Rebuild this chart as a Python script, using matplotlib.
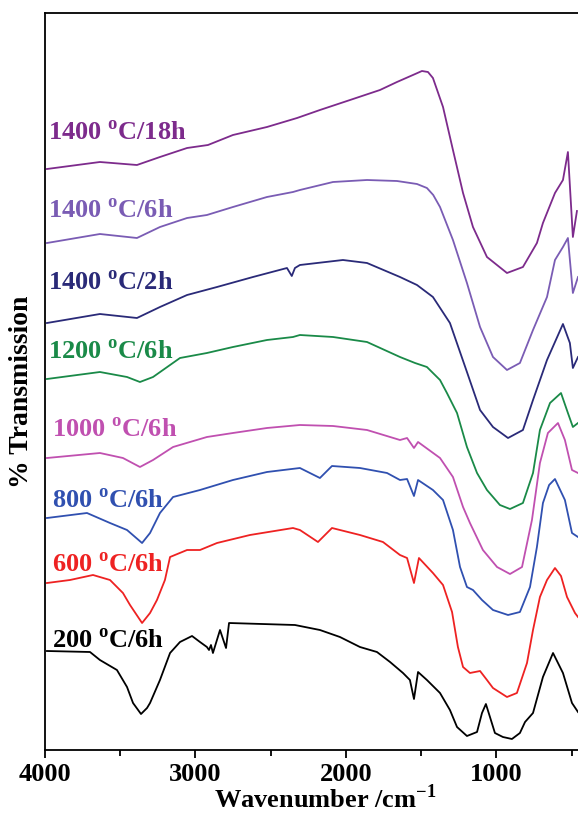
import matplotlib
matplotlib.use("Agg")
import matplotlib.pyplot as plt
from matplotlib.ticker import MultipleLocator

plt.rcParams["font.family"] = "Liberation Serif"
plt.rcParams["font.weight"] = "bold"
plt.rcParams["mathtext.fontset"] = "custom"
plt.rcParams["mathtext.rm"] = "Liberation Serif:bold"
plt.rcParams["mathtext.bf"] = "Liberation Serif:bold"

# --- spectra (wavenumber cm-1, stacked transmission a.u.) ---
wn_200 = [3987, 3701, 3635, 3522, 3455, 3415, 3362, 3322, 3302, 3236, 3169, 3103, 3023,
          2970, 2924, 2910, 2897, 2884, 2837, 2797, 2777, 2339, 2306, 2173, 2040, 1907,
          1794, 1707, 1621, 1575, 1548, 1521, 1462, 1375, 1309, 1262, 1196, 1129, 1096,
          1070, 1043, 1010, 957, 897, 844, 810, 757, 691, 624, 558, 498, 458]
t_200 = [99, 98, 90, 80, 63, 47, 36, 42, 47, 70, 97, 108, 114,
         108, 103, 100, 105, 97, 120, 102, 127, 125, 124, 120, 113, 103,
         98, 88, 77, 70, 51, 78, 70, 57, 40, 23, 14, 18, 37,
         46, 33, 17, 13, 11, 17, 28, 37, 73, 97, 77, 47, 38]

wn_600 = [3987, 3834, 3681, 3568, 3482, 3435, 3355, 3302, 3256, 3203, 3169, 3056, 2970,
          2857, 2638, 2352, 2306, 2186, 2093, 1907, 1754, 1641, 1594, 1548, 1515, 1422,
          1355, 1295, 1256, 1222, 1176, 1109, 1063, 1023, 930, 864, 797, 757, 711, 664,
          611, 571, 531, 478, 458]
t_600 = [167, 170, 175, 170, 157, 145, 127, 137, 150, 170, 193, 200, 200,
         207, 215, 222, 220, 208, 222, 215, 208, 195, 192, 167, 192, 177,
         165, 138, 103, 83, 77, 79, 70, 62, 53, 57, 87, 120, 153, 170,
         182, 174, 153, 137, 133]

wn_800 = [3987, 3721, 3568, 3455, 3355, 3302, 3236, 3149, 2970, 2751, 2525, 2306, 2173,
          2093, 1907, 1727, 1641, 1594, 1548, 1521, 1422, 1355, 1289, 1242, 1196, 1156,
          1096, 1023, 923, 844, 777, 731, 691, 650, 611, 545, 498, 458]
t_800 = [232, 237, 227, 220, 207, 217, 237, 253, 260, 270, 278, 282, 272,
         284, 282, 277, 270, 271, 254, 270, 260, 250, 220, 183, 163, 160,
         150, 140, 135, 138, 163, 203, 247, 265, 271, 250, 217, 213]

wn_1000 = [3987, 3635, 3482, 3369, 3282, 3149, 2924, 2751, 2525, 2306, 2086, 1860, 1641,
           1594, 1548, 1521, 1375, 1289, 1222, 1176, 1090, 996, 910, 830, 764, 711, 658,
           591, 545, 498, 458]
t_1000 = [292, 297, 292, 283, 290, 303, 313, 317, 322, 325, 324, 320, 310,
          312, 302, 308, 292, 273, 243, 227, 200, 183, 176, 183, 230, 287, 317,
          327, 310, 280, 277]

wn_1200 = [3987, 3635, 3455, 3369, 3282, 3103, 2924, 2751, 2525, 2352, 2306, 2086, 1860,
           1641, 1541, 1462, 1375, 1329, 1262, 1196, 1129, 1063, 977, 910, 824, 757, 711,
           644, 571, 525, 492, 458]
t_1200 = [371, 378, 373, 368, 373, 392, 397, 403, 410, 413, 415, 413, 408,
          393, 387, 383, 370, 357, 337, 303, 277, 260, 245, 241, 247, 277, 320,
          347, 357, 337, 323, 327]

wn_1400_2 = [3987, 3635, 3389, 3236, 3056, 2857, 2618, 2392, 2360, 2339, 2306, 2020, 1860,
             1641, 1528, 1422, 1309, 1196, 1109, 1023, 923, 824, 757, 664, 558, 512, 492, 458]
t_1400_2 = [427, 436, 432, 443, 455, 463, 473, 482, 474, 482, 485, 490, 487,
            473, 465, 453, 427, 378, 340, 323, 312, 320, 350, 390, 426, 407, 382, 393]

wn_1400_6 = [3987, 3635, 3389, 3236, 3056, 2924, 2751, 2525, 2352, 2306, 2086, 1860, 1661,
             1528, 1462, 1420, 1375, 1289, 1196, 1109, 1023, 930, 844, 757, 664, 611, 558,
             525, 498, 492, 458]
t_1400_6 = [507, 516, 512, 523, 532, 535, 543, 553, 558, 560, 568, 570, 569,
            566, 562, 555, 543, 510, 467, 423, 393, 380, 387, 420, 453, 490, 503,
            512, 467, 457, 473]

wn_1400_18 = [3987, 3635, 3389, 3236, 3056, 2917, 2751, 2525, 2325, 2173, 1973, 1774, 1661,
              1555, 1495, 1455, 1422, 1355, 1289, 1222, 1156, 1063, 930, 824, 731, 691, 611,
              558, 525, 492, 465]
t_1400_18 = [581, 588, 585, 593, 602, 605, 615, 623, 632, 640, 650, 660, 668,
             675, 679, 678, 672, 643, 600, 557, 523, 493, 477, 483, 507, 527, 557,
             570, 598, 513, 539]

labels = ["200 $^{\\mathrm{o}}$C/6h", "600 $^{\\mathrm{o}}$C/6h", "800 $^{\\mathrm{o}}$C/6h",
          "1000 $^{\\mathrm{o}}$C/6h", "1200 $^{\\mathrm{o}}$C/6h", "1400 $^{\\mathrm{o}}$C/2h",
          "1400 $^{\\mathrm{o}}$C/6h", "1400 $^{\\mathrm{o}}$C/18h"]
label_wn = [3953, 3953, 3953, 3953, 3980, 3980, 3980, 3980]
label_t = [102, 178, 242, 313, 391, 460, 532, 610]
colors = ["#000000", "#ee2222", "#3050b0", "#c050b0", "#1a8a48", "#2a2a78", "#7a5cb4", "#7d2b8c"]

series = [(wn_200, t_200), (wn_600, t_600), (wn_800, t_800), (wn_1000, t_1000),
          (wn_1200, t_1200), (wn_1400_2, t_1400_2), (wn_1400_6, t_1400_6),
          (wn_1400_18, t_1400_18)]

fig = plt.figure(figsize=(5.78, 8.21), dpi=100)
ax = fig.add_axes([45 / 578, 1 - 750 / 821, 1 - 45 / 578, (750 - 13) / 821])

for (wn, t), col, lab, lx, ly in zip(series, colors, labels, label_wn, label_t):
    ax.plot(wn, t, color=col, lw=1.3)
    ax.text(lx, ly, lab, color=col, fontsize=19, fontweight="bold", va="baseline", ha="left")

ax.set_xlim(4000, 458)
ax.set_ylim(0, 737)
ax.spines["right"].set_visible(False)
for s in ["left", "top", "bottom"]:
    ax.spines[s].set_linewidth(1.3)
ax.xaxis.set_major_locator(MultipleLocator(1000))
ax.xaxis.set_minor_locator(MultipleLocator(500))
ax.tick_params(axis="x", which="major", length=6, width=1.3, labelsize=19, pad=3)
ax.tick_params(axis="x", which="minor", length=4, width=1.3)
ax.set_yticks([])
for lbl in ax.get_xticklabels():
    lbl.set_fontweight("bold")

ax.set_xlabel("Wavenumber /cm$^{-1}$", fontsize=19, fontweight="bold")
ax.xaxis.set_label_coords(0.526, -0.046)
ax.set_ylabel("% Transmission", fontsize=20, fontweight="bold")
ax.yaxis.set_label_coords(-0.02, 0.486)

fig.savefig("out.png", dpi=100)
